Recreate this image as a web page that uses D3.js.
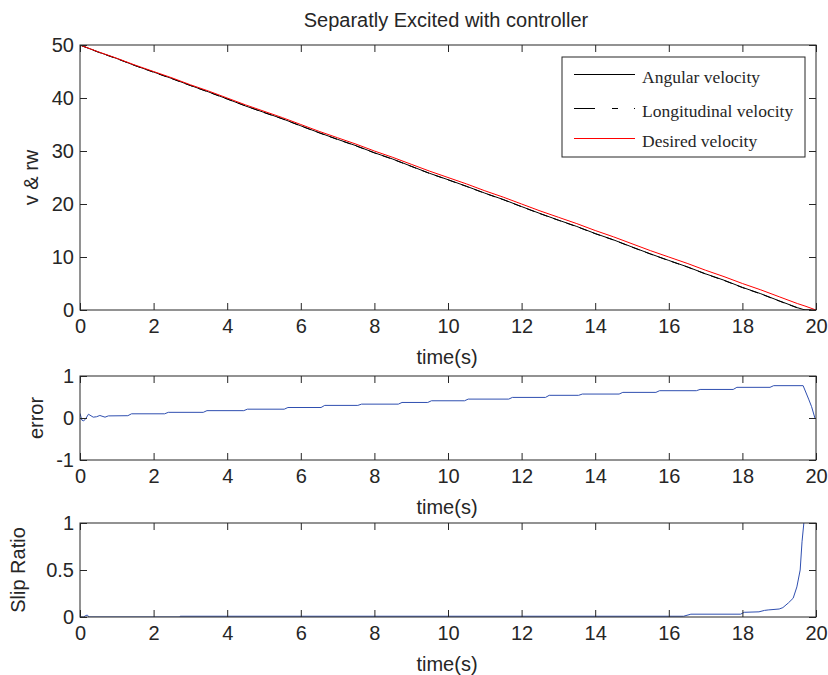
<!DOCTYPE html>
<html>
<head>
<meta charset="utf-8">
<script src="https://cdn.jsdelivr.net/npm/d3@7.9.0/dist/d3.min.js"></script>
<style>
  body { margin: 0; background: #fff; }
  svg text { font-family: "Liberation Sans", Arial, sans-serif; fill: #262626; }
  .legend text { font-family: "Liberation Serif", "Times New Roman", serif; }
</style>
</head>
<body>
<svg id="chart" width="828" height="675"></svg>
<script>
// tick labels
const xTicks = [0, 2, 4, 6, 8, 10, 12, 14, 16, 18, 20];
const velTicks = [0, 10, 20, 30, 40, 50];
const errTicks = [-1, 0, 1];
const slipTicks = [0, 0.5, 1];

// velocities
const velT = [0, 0.5, 1, 1.5, 2, 2.5, 3, 3.5, 4, 4.5, 5, 5.5, 6, 6.5, 7, 7.5, 8, 8.5, 9, 9.5,
  10, 10.5, 11, 11.5, 12, 12.5, 13, 13.5, 14, 14.5, 15, 15.5, 16, 16.5, 17, 17.5, 18, 18.5, 19, 19.5, 19.7, 20];
const desiredV = [50, 48.7, 47.5, 46.2, 45.0, 43.8, 42.5, 41.3, 40.0, 38.7, 37.5, 36.3, 35.0, 33.7, 32.5, 31.3, 30.0, 28.8, 27.5, 26.2,
  25.0, 23.8, 22.5, 21.3, 20.0, 18.7, 17.5, 16.3, 15.0, 13.8, 12.5, 11.2, 10.0, 8.8, 7.5, 6.3, 5.0, 3.8, 2.5, 1.2, 0.75, 0];
const angularV = [50, 48.67, 47.45, 46.1, 44.9, 43.67, 42.37, 41.13, 39.83, 38.49, 37.29, 36.09, 34.75, 33.45, 32.2, 31.0, 29.67, 28.47, 27.13, 25.79,
  24.59, 23.35, 22.05, 20.85, 19.51, 18.21, 16.96, 15.76, 14.43, 13.23, 11.89, 10.59, 9.35, 8.15, 6.82, 5.62, 4.27, 3.07, 1.73, 0.43, 0, 0];
const longitudinalV = [50, 48.64, 47.42, 46.12, 44.86, 43.64, 42.35, 41.1, 39.8, 38.52, 37.25, 36.06, 34.72, 33.42, 32.17, 30.96, 29.64, 28.44, 27.1, 25.76,
  24.56, 23.32, 22.02, 20.82, 19.48, 18.18, 16.93, 15.72, 14.4, 13.2, 11.86, 10.56, 9.32, 8.12, 6.79, 5.58, 4.23, 3.03, 1.69, 0.38, 0, 0];

// error
const errT = [0, 0.05, 0.1, 0.16, 0.23, 0.36, 0.45, 0.54, 0.68, 0.77, 1.3, 1.4, 2.3, 2.4, 3.35, 3.45, 4.45, 4.55, 5.55, 5.65,
  6.55, 6.65, 7.55, 7.65, 8.65, 8.75, 9.45, 9.55, 10.45, 10.55, 11.65, 11.75, 12.65, 12.75, 13.55, 13.65, 14.65, 14.75,
  15.65, 15.75, 16.75, 16.85, 17.75, 17.85, 18.75, 18.85, 19.65, 19.8, 19.88, 19.97];
const errV = [0.11, -0.05, -0.07, -0.01, 0.09, 0.02, 0.03, 0.06, 0.02, 0.05, 0.055, 0.10, 0.10, 0.135, 0.135, 0.175, 0.175, 0.21, 0.21, 0.25,
  0.25, 0.30, 0.30, 0.33, 0.33, 0.37, 0.37, 0.41, 0.41, 0.45, 0.45, 0.49, 0.49, 0.54, 0.54, 0.57, 0.57, 0.61,
  0.61, 0.65, 0.65, 0.68, 0.68, 0.73, 0.73, 0.77, 0.77, 0.45, 0.27, 0.0];

// slip ratio
const slipT = [0, 0.1, 0.15, 0.2, 0.25, 2.7, 2.72, 16.4, 16.6, 17.95, 18.05, 18.45, 18.6, 18.7, 19.0, 19.1, 19.25, 19.38, 19.48, 19.57, 19.62, 19.67, 19.72];
const slipV = [0, 0, 0.015, 0.02, 0, 0, 0.008, 0.008, 0.03, 0.03, 0.05, 0.055, 0.07, 0.075, 0.085, 0.1, 0.15, 0.2, 0.32, 0.5, 0.8, 1.0, 1.3];

const svg = d3.select('#chart');
const left = 80, right = 816;
const x = d3.scaleLinear().domain([0, 20]).range([left, right]);
const tickLen = 7;
const fontSize = 20;
const ink = '#262626';

function toPoints(ts, vs) {
    return ts.map((t, i) => [t, vs[i]]);
}

function panel(cfg) {
    const y = d3.scaleLinear().domain(cfg.domain).range([cfg.bottom, cfg.top]);
    const g = svg.append('g');

    let clipId = 'clip-' + cfg.name;
    svg.append('clipPath').attr('id', clipId)
        .append('rect')
        .attr('x', left).attr('y', cfg.top)
        .attr('width', right - left).attr('height', cfg.bottom - cfg.top);

    // lines
    let line = d3.line().x(d => x(d[0])).y(d => y(d[1]));
    cfg.series.forEach(s => {
        g.append('path')
            .attr('d', line(toPoints(s.t, s.v)))
            .attr('fill', 'none')
            .attr('stroke', s.color)
            .attr('stroke-width', 1)
            .attr('stroke-dasharray', s.dash || null)
            .attr('clip-path', `url(#${clipId})`);
    });

    // axes, ticks inward on all four sides
    let fmt = d => String(d);
    let bottomAxis = d3.axisBottom(x).tickValues(xTicks).tickSize(-tickLen).tickPadding(9).tickFormat(fmt);
    let topAxis = d3.axisTop(x).tickValues(xTicks).tickSize(-tickLen).tickFormat('');
    let leftAxis = d3.axisLeft(y).tickValues(cfg.ticks).tickSize(-tickLen).tickPadding(6).tickFormat(fmt);
    let rightAxis = d3.axisRight(y).tickValues(cfg.ticks).tickSize(-tickLen).tickFormat('');

    let axes = [
        [bottomAxis, `translate(0,${cfg.bottom})`],
        [topAxis, `translate(0,${cfg.top})`],
        [leftAxis, `translate(${left},0)`],
        [rightAxis, `translate(${right},0)`]
    ];
    axes.forEach(([ax, tr]) => {
        let a = g.append('g').attr('transform', tr).call(ax);
        a.select('.domain').remove();
        a.selectAll('line').attr('stroke', ink);
        a.selectAll('text').attr('font-size', fontSize).attr('font-family', null).attr('fill', ink);
    });

    g.append('rect')
        .attr('x', left).attr('y', cfg.top)
        .attr('width', right - left).attr('height', cfg.bottom - cfg.top)
        .attr('fill', 'none').attr('stroke', ink).attr('stroke-width', 1);

    g.append('text')
        .attr('x', (left + right) / 2 - 1).attr('y', cfg.bottom + 54)
        .attr('text-anchor', 'middle').attr('font-size', fontSize)
        .text('time(s)');

    g.append('text')
        .attr('transform', `translate(${cfg.ylabelX},${(cfg.top + cfg.bottom) / 2}) rotate(-90)`)
        .attr('text-anchor', 'middle').attr('font-size', fontSize)
        .text(cfg.ylabel);
    return y;
}

panel({
    name: 'vel', top: 45, bottom: 310, domain: [0, 50], ticks: velTicks, ylabel: 'v & rw', ylabelX: 38,
    series: [
        { t: velT, v: angularV, color: '#000' },
        { t: velT, v: longitudinalV, color: '#000', dash: '8,6' },
        { t: velT, v: desiredV, color: '#ff0000' }
    ]
});

panel({
    name: 'err', top: 376, bottom: 460, domain: [-1, 1], ticks: errTicks, ylabel: 'error', ylabelX: 43,
    series: [{ t: errT, v: errV, color: '#2f4fb0' }]
});

panel({
    name: 'slip', top: 523, bottom: 617, domain: [0, 1], ticks: slipTicks, ylabel: 'Slip Ratio', ylabelX: 25,
    series: [{ t: slipT, v: slipV, color: '#2f4fb0' }]
});

svg.append('text')
    .attr('x', 446).attr('y', 27)
    .attr('text-anchor', 'middle').attr('font-size', fontSize)
    .text('Separatly Excited with controller');

// legend
const legendItems = [
    { label: 'Angular velocity', color: '#000', dash: null },
    { label: 'Longitudinal velocity', color: '#000', dash: '21,17,6,16,1' },
    { label: 'Desired velocity', color: '#ff0000', dash: null }
];
const leg = svg.append('g').attr('class', 'legend');
leg.append('rect')
    .attr('x', 562).attr('y', 57).attr('width', 243).attr('height', 100)
    .attr('fill', '#fff').attr('stroke', ink).attr('stroke-width', 1);
const rowY = [74.5, 108.5, 138.5];
legendItems.forEach((d, i) => {
    leg.append('line')
        .attr('x1', 574).attr('x2', 635).attr('y1', rowY[i]).attr('y2', rowY[i])
        .attr('stroke', d.color).attr('stroke-width', 1)
        .attr('stroke-dasharray', d.dash);
    leg.append('text')
        .attr('x', 642).attr('y', rowY[i] + 8)
        .attr('font-size', 17.5)
        .text(d.label);
});
</script>
</body>
</html>
